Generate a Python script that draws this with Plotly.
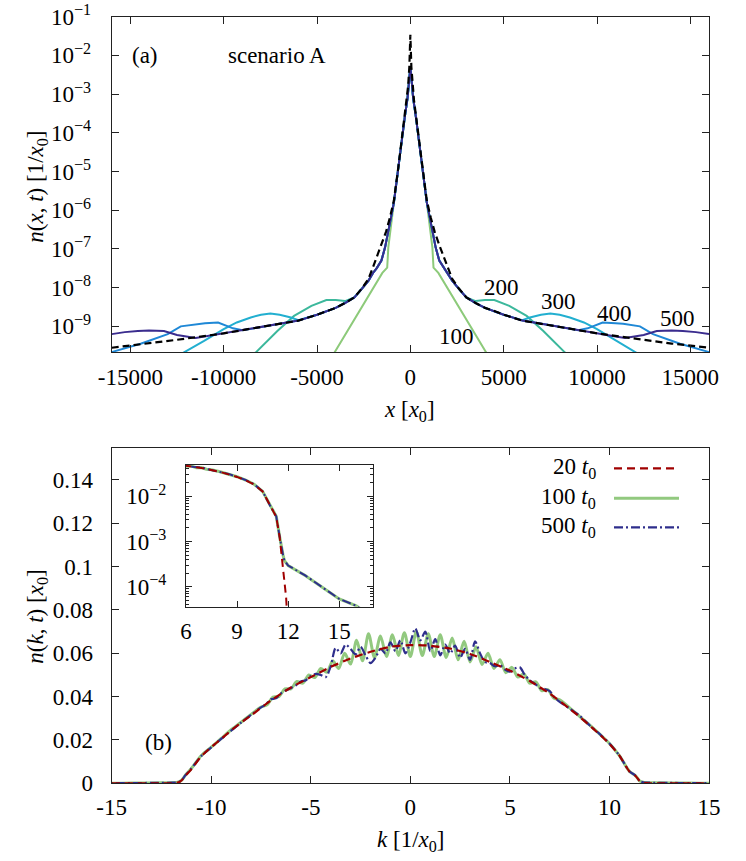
import plotly.graph_objects as go

# ---------------- panel (a): n(x,t), log scale ----------------
# analytic (black dashed), half profile for x >= 0 (mirrored)
xa_half = [0, 54, 120, 196, 300, 430, 643, 880, 1100, 1300, 1550, 1800, 2000, 2250, 2600,
           3000, 3500, 4000, 4500, 5000, 6000, 7500, 9000, 10000, 12500, 14000, 16000]
na_half = [3.4e-2, 5.0e-3, 1.6e-3, 6.9e-4, 2.8e-4, 9.5e-5, 1.3e-5, 1.8e-6, 6.3e-7, 2.8e-7, 1.26e-7,
           6.0e-8, 3.4e-8, 1.66e-8, 9.5e-9, 5.6e-9, 4.0e-9, 3.0e-9, 2.5e-9, 2.0e-9, 1.41e-9,
           1.07e-9, 7.9e-10, 6.6e-10, 4.5e-10, 3.6e-10, 2.8e-10]

# simulated profiles (half profiles, x >= 0)
x100 = [0, 60, 150, 300, 430, 643, 880, 1100, 1180, 1240, 1350, 1500, 4120, 4300]
nx100 = [5.0e-3, 2.5e-3, 7.9e-4, 2.5e-4, 8.9e-5, 1.26e-5, 1.6e-6, 2.5e-7, 1.1e-7, 3.3e-8, 2.8e-8,
         2.4e-8, 1.9e-10, 1.4e-10]

x200 = [0, 60, 150, 300, 430, 643, 880, 1100, 1355, 1550, 1800, 2000, 2250, 2600, 3000, 3500,
        4000, 4500, 5300, 6230, 7125, 8290, 8700]
nx200 = [5.0e-3, 2.5e-3, 7.9e-4, 2.5e-4, 8.9e-5, 1.26e-5, 1.6e-6, 4.5e-7, 1.1e-7, 5.0e-8, 3.2e-8,
         2.4e-8, 1.5e-8, 9.3e-9, 5.6e-9, 4.5e-9, 4.8e-9, 4.8e-9, 3.4e-9, 1.86e-9, 7.6e-10,
         2.1e-10, 1.4e-10]

x300 = [0, 60, 150, 300, 430, 643, 880, 1100, 1355, 1550, 1800, 2000, 2250, 2600, 3000, 3500,
        4000, 5000, 6000, 6400, 7000, 7500, 8000, 8550, 9300, 10000, 11050, 12150, 12700]
nx300 = [5.0e-3, 2.5e-3, 7.9e-4, 2.5e-4, 8.9e-5, 1.26e-5, 1.6e-6, 4.5e-7, 1.1e-7, 5.0e-8, 3.2e-8,
         2.4e-8, 1.5e-8, 9.3e-9, 5.6e-9, 4.0e-9, 3.0e-9, 2.0e-9, 1.45e-9, 1.7e-9, 2.0e-9,
         2.14e-9, 2.0e-9, 1.7e-9, 1.26e-9, 8.5e-10, 4.2e-10, 2.1e-10, 1.4e-10]

x400 = [0, 60, 150, 300, 430, 643, 880, 1100, 1355, 1550, 1800, 2000, 2250, 2600, 3000, 3500,
        4000, 5000, 6000, 7500, 9000, 9500, 10300, 11000, 11400, 12300, 13000, 14450, 15960, 16500]
nx400 = [5.0e-3, 2.5e-3, 7.9e-4, 2.5e-4, 8.9e-5, 1.26e-5, 1.6e-6, 4.5e-7, 1.1e-7, 5.0e-8, 3.2e-8,
         2.4e-8, 1.5e-8, 9.3e-9, 5.6e-9, 4.0e-9, 3.0e-9, 2.0e-9, 1.41e-9, 1.07e-9, 7.9e-10,
         8.9e-10, 1.26e-9, 1.2e-9, 1.17e-9, 1.0e-9, 6.3e-10, 3.55e-10, 2.2e-10, 1.6e-10]

x500 = [0, 60, 150, 300, 430, 643, 880, 1100, 1355, 1550, 1800, 2000, 2250, 2600, 3000, 3500,
        4000, 5000, 6000, 7500, 9000, 10000, 11000, 11500, 12500, 13200, 14000, 14600, 15300, 16000]
nx500 = [5.0e-3, 2.5e-3, 7.9e-4, 2.5e-4, 8.9e-5, 1.26e-5, 1.6e-6, 4.5e-7, 1.1e-7, 5.0e-8, 3.2e-8,
         2.4e-8, 1.5e-8, 9.3e-9, 5.6e-9, 4.0e-9, 3.0e-9, 2.0e-9, 1.41e-9, 1.07e-9, 7.9e-10,
         6.6e-10, 5.5e-10, 5.0e-10, 6.0e-10, 7.6e-10, 7.8e-10, 7.6e-10, 7.1e-10, 6.3e-10]

curve_labels = ["100", "200", "300", "400", "500"]

xa_ticks = [-15000, -10000, -5000, 0, 5000, 10000, 15000]
xa_ticktext = ["-15000", "-10000", "-5000", "0", "5000", "10000", "15000"]
ya_ticks = [1e-9, 1e-8, 1e-7, 1e-6, 1e-5, 1e-4, 1e-3, 1e-2, 1e-1]
ya_ticktext = ["10<sup>\u2212%d</sup>" % e for e in [9, 8, 7, 6, 5, 4, 3, 2, 1]]

# ---------------- panel (b): n(k,t) ----------------
k20 = [-15, -12, -11.9, -11.8, -11.7, -11.6, -11.5, -11.3, -11.0, -10.5, -10.0, -9.5, -9.0, -8.5,
       -8.0, -7.0, -6.0, -5.0, -4.0, -3.0, -2.0, -1.0, 0.0, 1.0, 2.0, 3.0, 4.0, 5.0, 6.0, 7.0,
       8.0, 8.5, 9.0, 9.5, 10.0, 10.5, 11.0, 11.3, 11.5, 11.6, 11.7, 11.8, 11.88, 11.95, 12.0, 15]
nk20 = [0, 0, 2e-5, 1.3e-4, 3e-4, 6e-4, 1.26e-3, 3.5e-3, 6.5e-3, 0.0125, 0.0167, 0.0205, 0.0244,
        0.028, 0.0313, 0.0383, 0.0442, 0.049, 0.0537, 0.0576, 0.0607, 0.063, 0.0638, 0.0635,
        0.0622, 0.0597, 0.056, 0.052, 0.0472, 0.0414, 0.0344, 0.0307, 0.0267, 0.0226, 0.0182,
        0.0128, 0.0055, 0.0035, 0.00126, 6e-4, 3e-4, 1.3e-4, 5.8e-5, 2e-5, 0, 0]

k100 = [-16.5, -16, -15, -14, -13, -12, -11.78, -11.7, -11.6, -11.5, -11.3, -11.0, -10.5, -10.0,
        -9.5, -9.0, -8.5, -8.0,
        -7.5, -7.2, -6.9, -6.6, -6.3, -6.0, -5.7, -5.4, -5.1, -4.8, -4.5, -4.2, -3.9, -3.6, -3.3,
        -3.0, -2.7, -2.4, -2.1, -1.8, -1.5, -1.2, -0.9, -0.6, -0.3, 0.0, 0.3, 0.6, 0.9, 1.2, 1.5,
        1.8, 2.1, 2.4, 2.7, 3.0, 3.3, 3.6, 3.9, 4.2, 4.5, 4.8, 5.1, 5.4, 5.7, 6.0, 6.3, 6.6, 6.9,
        7.2, 7.5,
        8.0, 8.5, 9.0, 9.5, 10.0, 10.5, 11.0, 11.3, 11.5, 11.6, 11.7, 11.78, 12, 13, 14, 15, 16,
        16.5]
nk100 = [2.8e-5, 3.8e-5, 5.4e-5, 9.8e-5, 1.78e-4, 2.95e-4, 3.8e-4, 5e-4, 7.5e-4, 1.3e-3, 3.7e-3,
         6.8e-3, 0.0128, 0.0167, 0.0207, 0.0247, 0.0282, 0.0318,
         0.0352, 0.0362, 0.0398, 0.0400, 0.0436, 0.0436, 0.0470, 0.0462, 0.0500, 0.0488, 0.0530,
         0.0512, 0.0565, 0.0530, 0.0600, 0.0550, 0.0660, 0.0565, 0.0690, 0.0580, 0.0680, 0.0585,
         0.0685, 0.0590, 0.0695, 0.0585, 0.0700, 0.0590, 0.0690, 0.0585, 0.0685, 0.0580, 0.0670,
         0.0570, 0.0655, 0.0560, 0.0630, 0.0548, 0.0600, 0.0530, 0.0570, 0.0510, 0.0535, 0.0490,
         0.0505, 0.0462, 0.0468, 0.0428, 0.0432, 0.0394, 0.0385,
         0.0348, 0.0309, 0.0270, 0.0228, 0.0184, 0.0128, 5.6e-3, 3.6e-3, 1.28e-3, 7.5e-4, 5e-4,
         3.8e-4, 2.95e-4, 1.78e-4, 9.8e-5, 5.4e-5, 3.8e-5, 2.8e-5]

k500 = [-16.5, -16, -15, -14, -13, -12, -11.78, -11.7, -11.6, -11.5, -11.3, -11.0, -10.5, -10.0,
        -9.5, -9.0, -8.5, -8.0,
        -7.5, -7.25, -7.0, -6.75, -6.5, -6.25, -6.0, -5.75, -5.5, -5.25, -5.0, -4.75, -4.5, -4.25,
        -4.0, -3.75, -3.5, -3.25, -3.0, -2.75, -2.5, -2.25, -2.0, -1.75, -1.5, -1.25, -1.0, -0.75,
        -0.5, -0.25, 0.0, 0.25, 0.5, 0.75, 1.0, 1.25, 1.5, 1.75, 2.0, 2.25, 2.5, 2.75, 3.0, 3.25,
        3.5, 3.75, 4.0, 4.25, 4.5, 4.75, 5.0, 5.25, 5.5, 5.75, 6.0, 6.25, 6.5, 6.75, 7.0, 7.25, 7.5,
        8.0, 8.5, 9.0, 9.5, 10.0, 10.5, 11.0, 11.3, 11.5, 11.6, 11.7, 11.78, 12, 13, 14, 15, 16,
        16.5]
nk500 = [2.8e-5, 3.8e-5, 5.4e-5, 9.8e-5, 1.78e-4, 2.95e-4, 3.8e-4, 5e-4, 7.5e-4, 1.3e-3, 3.7e-3,
         6.8e-3, 0.0126, 0.0166, 0.0205, 0.0243, 0.0280, 0.0316,
         0.0350, 0.0365, 0.0388, 0.0392, 0.0415, 0.0428, 0.0440, 0.0452, 0.0470, 0.0476, 0.0495,
         0.0505, 0.0500, 0.0490, 0.0540, 0.0625, 0.0600, 0.0640, 0.0620, 0.0595, 0.0630, 0.0590,
         0.0555, 0.0580, 0.0620, 0.0600, 0.0650, 0.0610, 0.0660, 0.0600, 0.0650, 0.0715, 0.0660,
         0.0700, 0.0610, 0.0665, 0.0590, 0.0640, 0.0600, 0.0635, 0.0580, 0.0620, 0.0570, 0.0655,
         0.0600, 0.0560, 0.0555, 0.0540, 0.0545, 0.0525, 0.0515, 0.0530, 0.0535, 0.0500, 0.0475,
         0.0460, 0.0440, 0.0435, 0.0425, 0.0395, 0.0376,
         0.0345, 0.0312, 0.0268, 0.0228, 0.0184, 0.0128, 5.6e-3, 3.6e-3, 1.28e-3, 7.5e-4, 5e-4,
         3.8e-4, 2.95e-4, 1.78e-4, 9.8e-5, 5.4e-5, 3.8e-5, 2.8e-5]

legend_names = ["20 <i>t</i><sub>0</sub>", "100 <i>t</i><sub>0</sub>", "500 <i>t</i><sub>0</sub>"]

xb_ticks = [-15, -10, -5, 0, 5, 10, 15]
xb_ticktext = ["-15", "-10", "-5", "0", "5", "10", "15"]
yb_ticks = [0, 0.02, 0.04, 0.06, 0.08, 0.1, 0.12, 0.14]
yb_ticktext = ["0", "0.02", "0.04", "0.06", "0.08", "0.1", "0.12", "0.14"]
xi_ticks = [6, 9, 12, 15]
yi_ticks = [1e-2, 1e-3, 1e-4]
yi_ticktext = ["10<sup>\u22122</sup>", "10<sup>\u22123</sup>", "10<sup>\u22124</sup>"]
yi_minor = [4e-5, 5e-5, 6e-5, 7e-5, 8e-5, 9e-5, 2e-4, 3e-4, 4e-4, 5e-4, 6e-4, 7e-4, 8e-4, 9e-4,
            2e-3, 3e-3, 4e-3, 5e-3, 6e-3, 7e-3, 8e-3, 9e-3, 2e-2, 3e-2, 4e-2]

# ---------------- styling ----------------
FONT = "Liberation Serif"
W, H = 746, 861
col_t = {"100": "#8dca7a", "200": "#3cb89c", "300": "#22afd0", "400": "#1f88d6", "500": "#3a2c8e"}
red, green, blue = "#a00000", "#92c97f", "#2e2e8c"


def mirror(xs, ns):
    return [-v for v in reversed(xs[1:])] + list(xs), list(reversed(ns[1:])) + list(ns)


fig = go.Figure()
for lab, xs, ns in zip(curve_labels, [x100, x200, x300, x400, x500],
                       [nx100, nx200, nx300, nx400, nx500]):
    X, N = mirror(xs, ns)
    fig.add_trace(go.Scatter(x=X, y=N, mode="lines", line=dict(color=col_t[lab], width=2),
                             xaxis="x", yaxis="y", showlegend=False))
X, N = mirror(xa_half, na_half)
fig.add_trace(go.Scatter(x=X, y=N, mode="lines", line=dict(color="black", width=2.2, dash="7px,4px"),
                         xaxis="x", yaxis="y", showlegend=False))

# panel b main
fig.add_trace(go.Scatter(x=k100, y=nk100, mode="lines",
                         line=dict(color=green, width=3, shape="spline", smoothing=0.8),
                         xaxis="x2", yaxis="y2", showlegend=False))
fig.add_trace(go.Scatter(x=k500, y=nk500, mode="lines",
                         line=dict(color=blue, width=2.2, dash="9px,3px,2px,3px", shape="spline", smoothing=0.8),
                         xaxis="x2", yaxis="y2", showlegend=False))
fig.add_trace(go.Scatter(x=k20, y=nk20, mode="lines",
                         line=dict(color=red, width=2.2, dash="8px,5px", shape="spline", smoothing=0.6),
                         xaxis="x2", yaxis="y2", showlegend=False))
# inset
fig.add_trace(go.Scatter(x=k100, y=nk100, mode="lines", line=dict(color=green, width=3),
                         xaxis="x3", yaxis="y3", showlegend=False))
fig.add_trace(go.Scatter(x=k500, y=nk500, mode="lines", line=dict(color=blue, width=2, dash="9px,3px,2px,3px"),
                         xaxis="x3", yaxis="y3", showlegend=False))
fig.add_trace(go.Scatter(x=k20, y=nk20, mode="lines", line=dict(color=red, width=2, dash="8px,5px"),
                         xaxis="x3", yaxis="y3", showlegend=False))


def px(v):
    return v / W


def py(v):
    return 1 - v / H


axis_common = dict(showline=True, linecolor="#222", linewidth=1.2, mirror="ticks", ticks="inside",
                   ticklen=7, tickcolor="#222", tickwidth=1.1, showgrid=False, zeroline=False,
                   automargin=False, tickfont=dict(family=FONT, size=23, color="black"))

fig.update_layout(
    width=W, height=H, margin=dict(l=0, r=0, t=0, b=0, autoexpand=False),
    paper_bgcolor="white", plot_bgcolor="white", showlegend=False,
    xaxis=dict(axis_common, domain=[px(111.7), px(709)], range=[-16000, 16000], anchor="y",
               tickmode="array", tickvals=xa_ticks, ticktext=xa_ticktext, ticklabelstandoff=4),
    yaxis=dict(axis_common, domain=[py(352.3), py(16.7)], type="log", range=[-9.67, -1], anchor="x",
               tickmode="array", tickvals=ya_ticks, ticktext=ya_ticktext, ticklabelstandoff=15),
    xaxis2=dict(axis_common, domain=[px(111.7), px(709)], range=[-15, 15], anchor="y2",
                tickmode="array", tickvals=xb_ticks, ticktext=xb_ticktext, ticklabelstandoff=3),
    yaxis2=dict(axis_common, domain=[py(783.3), py(448.3)], range=[0, 0.1546], anchor="x2",
                tickmode="array", tickvals=yb_ticks, ticktext=yb_ticktext, ticklabelstandoff=13),
    xaxis3=dict(axis_common, domain=[px(186), px(373.3)], range=[6, 17], anchor="y3",
                tickmode="array", tickvals=xi_ticks, ticklen=6, ticklabelstandoff=4),
    yaxis3=dict(axis_common, domain=[py(606.7), py(465)], type="log", range=[-4.44, -1.31], anchor="x3",
                tickmode="array", tickvals=yi_ticks, ticktext=yi_ticktext, ticklen=6, ticklabelstandoff=14,
                minor=dict(ticks="inside", ticklen=3, tickcolor="#222", tickmode="array", tickvals=yi_minor)),
)

ann_font = dict(family=FONT, size=23, color="black")
annotations = [
    dict(text="(a)", x=px(145), y=py(55)),
    dict(text="scenario A", x=px(277), y=py(55)),
    dict(text=curve_labels[0], x=px(456), y=py(336)),
    dict(text=curve_labels[1], x=px(501.7), y=py(287.3)),
    dict(text=curve_labels[2], x=px(558.3), y=py(301.7)),
    dict(text=curve_labels[3], x=px(614.3), y=py(313.3)),
    dict(text=curve_labels[4], x=px(677.3), y=py(318.3)),
    dict(text="(b)", x=px(158), y=py(742)),
    dict(text="<i>x</i> [<i>x</i><sub>0</sub>]", x=px(409), y=py(411)),
    dict(text="<i>k</i> [1/<i>x</i><sub>0</sub>]", x=px(410), y=py(841)),
    dict(text="<i>n</i>(<i>x</i>, <i>t</i>) [1/<i>x</i><sub>0</sub>]", x=px(36.7), y=py(187), textangle=-90),
    dict(text="<i>n</i>(<i>k</i>, <i>t</i>) [<i>x</i><sub>0</sub>]", x=px(36.7), y=py(617), textangle=-90),
]
for a in annotations:
    fig.add_annotation(xref="paper", yref="paper", showarrow=False, font=ann_font,
                       xanchor="center", yanchor="middle", **a)

# legend (text left, key right, as in the original)
leg_rows = [468.3, 498.3, 527.3]
leg_styles = [dict(color=red, width=2.2, dash="8px,5px"), dict(color=green, width=3),
              dict(color=blue, width=2.2, dash="9px,3px,2px,3px")]
for name, yrow, st in zip(legend_names, leg_rows, leg_styles):
    fig.add_annotation(xref="paper", yref="paper", showarrow=False, font=ann_font, text=name,
                       x=px(598), y=py(yrow), xanchor="right", yanchor="middle")
    fig.add_shape(type="line", xref="paper", yref="paper", x0=px(614), x1=px(679),
                  y0=py(yrow), y1=py(yrow), line=st)

fig.write_html("out.html", config={"displayModeBar": False},
               post_script="document.body.style.margin='0';document.body.style.overflow='hidden';")
